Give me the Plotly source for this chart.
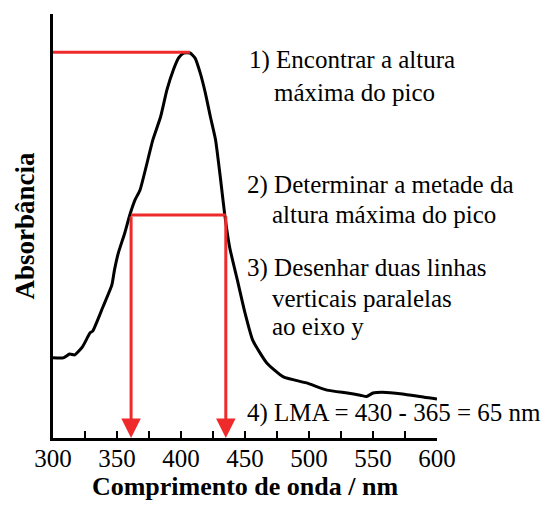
import plotly.graph_objects as go

# Spectrum data
wavelength = [300, 308, 313, 317, 323, 329, 331, 339, 346, 348, 351, 356, 360, 364, 368,
              378, 384, 389, 394, 398, 402, 407, 411, 415, 419, 423, 427,
              431, 434, 438, 444, 450, 456, 467, 480, 498, 514, 530, 540, 545, 550, 557,
              573, 590, 600]
absorbance = [0.189, 0.189, 0.198, 0.196, 0.215, 0.248, 0.252, 0.309, 0.361, 0.396, 0.436, 0.483,
              0.526, 0.561, 0.585,
              0.703, 0.757, 0.821, 0.868, 0.896, 0.908, 0.908, 0.896, 0.861, 0.814, 0.757, 0.703,
              0.608, 0.531, 0.450, 0.373, 0.295, 0.231, 0.177, 0.144, 0.130, 0.113, 0.106, 0.101,
              0.098, 0.106, 0.108, 0.104, 0.096, 0.092]

peak_x = 407
peak_y = 0.910
half_y = 0.526
left_x = 361
right_x = 435

x_ticks = [300, 350, 400, 450, 500, 550, 600]

notes = [
    ("1) Encontrar a altura", 451.6, 0.892),
    ("máxima do pico", 471.0, 0.816),
    ("2) Determinar a metade da", 450.0, 0.597),
    ("altura máxima do pico", 469.5, 0.526),
    ("3) Desenhar duas linhas", 450.0, 0.401),
    ("verticais paralelas", 469.5, 0.330),
    ("ao eixo y", 469.5, 0.262),
    ("4) LMA = 430 - 365 = 65 nm", 450.0, 0.059),
]

RED = "#ee2a2a"
FONT = "Times New Roman, Liberation Serif, serif"

fig = go.Figure()
fig.add_trace(go.Scatter(x=wavelength, y=absorbance, mode="lines",
                         line=dict(color="black", width=3, shape="spline", smoothing=0.5),
                         hoverinfo="skip", showlegend=False))

shapes = [
    dict(type="line", xref="x", yref="y", x0=300, x1=peak_x, y0=peak_y, y1=peak_y,
         line=dict(color=RED, width=3)),
    dict(type="line", xref="x", yref="y", x0=left_x, x1=right_x, y0=half_y, y1=half_y,
         line=dict(color=RED, width=3)),
]

annotations = []
for xv in (left_x, right_x):
    annotations.append(dict(x=xv, y=0, ax=xv, ay=half_y, xref="x", yref="y", axref="x", ayref="y",
                            showarrow=True, arrowhead=2, arrowsize=1.3, arrowwidth=3,
                            arrowcolor=RED, text=""))
for txt, xv, yv in notes:
    annotations.append(dict(x=xv, y=yv, xref="x", yref="y", text=txt, showarrow=False,
                            xanchor="left", yanchor="middle",
                            font=dict(family=FONT, size=25, color="black")))

# page body has an 8px margin, so the figure is sized/offset to land on the reference positions
fig.update_layout(
    width=546, height=497,
    margin=dict(l=45, r=117, t=6, b=67, autoexpand=False),
    paper_bgcolor="white", plot_bgcolor="white",
    shapes=shapes, annotations=annotations,
    font=dict(family=FONT, color="black"),
    xaxis=dict(range=[300, 600], tickvals=x_ticks, ticktext=[str(v) for v in x_ticks],
               ticks="inside", ticklen=7, tickwidth=2, tickcolor="black",
               minor=dict(dtick=25, ticks="inside", ticklen=7, tickwidth=2, tickcolor="black"),
               showline=True, linecolor="black", linewidth=3, showgrid=False, zeroline=False,
               automargin=False, ticklabelstandoff=-4,
               tickfont=dict(family=FONT, size=25, color="black"),
               title=dict(text="<b>Comprimento de onda / nm</b>", standoff=4,
                          font=dict(family=FONT, size=26, color="black"))),
    yaxis=dict(range=[0, 1], showticklabels=False, ticks="", showline=True, linecolor="black",
               linewidth=3, showgrid=False, zeroline=False, automargin=False,
               title=dict(text="<b>Absorbância</b>", standoff=8,
                          font=dict(family=FONT, size=27, color="black"))),
)

fig.write_html("out.html")
